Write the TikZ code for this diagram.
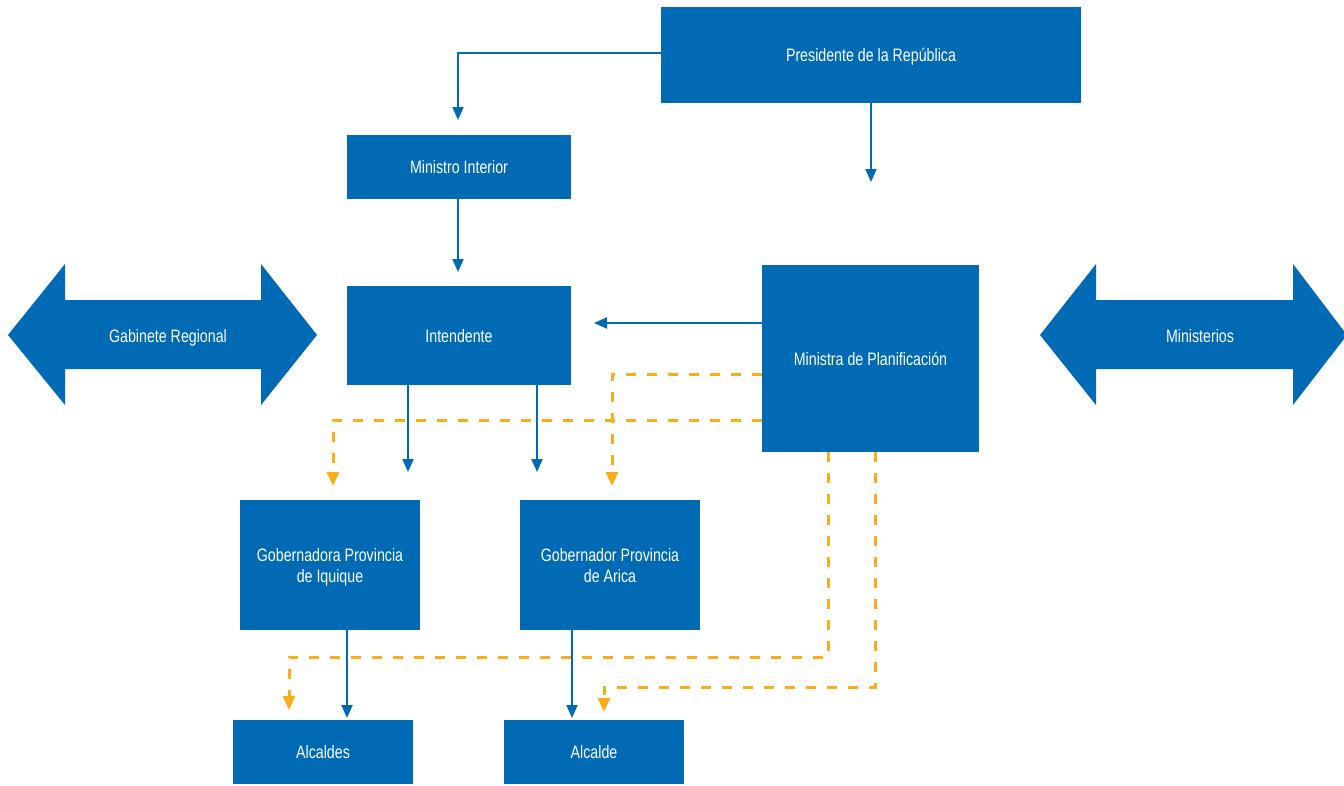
\documentclass[tikz,border=0pt]{standalone}
\usepackage{fontspec}
\setmainfont{Liberation Sans}[FakeStretch=0.79]
\usetikzlibrary{arrows.meta}
\definecolor{cblue}{RGB}{0,106,180}
\definecolor{corange}{RGB}{251,173,24}
\begin{document}
\begin{tikzpicture}[x=1pt,y=-1pt,
  box/.style={fill=cblue,text=white,inner sep=0pt,align=center,text depth=0pt,font=\fontsize{18}{21}\selectfont},
  barrow/.style={draw=cblue,line width=2pt,-{Triangle[length=13pt,width=11pt]}},
  oarrow/.style={draw=corange,line width=3pt,dash pattern=on 10pt off 11pt,-{Triangle[length=14pt,width=12pt]}},
  bigarrow/.style={fill=cblue}]
\useasboundingbox (0,0) rectangle (1344,785);
\fill[white] (0,0) rectangle (1344,785);
% boxes
\node[box,minimum width=420pt,minimum height=96pt] (pres) at (871,55) {Presidente de la República};
\node[box,minimum width=224pt,minimum height=64pt] (mint) at (459,167) {Ministro Interior};
\node[box,minimum width=224pt,minimum height=99pt] (inte) at (459,335.5) {Intendente};
\node[box,minimum width=217pt,minimum height=187pt] (plan) at (870.5,358.5) {Ministra de Planificación};
\node[box,minimum width=180pt,minimum height=130pt] (gobi) at (330,565) {Gobernadora Provincia\\de Iquique};
\node[box,minimum width=180pt,minimum height=130pt] (goba) at (610,565) {Gobernador Provincia\\de Arica};
\node[box,minimum width=180pt,minimum height=64pt] (alcs) at (323,752) {Alcaldes};
\node[box,minimum width=180pt,minimum height=64pt] (alc) at (594,752) {Alcalde};
% double arrows
\fill[bigarrow] (8,335)--(65,264)--(65,300)--(261,300)--(261,264)--(317,335)--(261,405)--(261,369)--(65,369)--(65,405)--cycle;
\node[box,fill=none] (gab) at (168,336) {Gabinete Regional};
\fill[bigarrow] (1040,335)--(1096,264)--(1096,300)--(1293,300)--(1293,264)--(1347,335)--(1293,405)--(1293,369)--(1096,369)--(1096,405)--cycle;
\node[box,fill=none] (mins) at (1200,336) {Ministerios};
% blue connectors
\coordinate (a1) at (458,120);
\coordinate (y53) at (0,53);
\draw[barrow] (pres.west |- y53) -| (a1);
\coordinate (a2) at (871,182);
\draw[barrow] (pres.south) -- (a2);
\coordinate (a3) at (458,272);
\draw[barrow] (mint.south -| a3) -- (a3);
\coordinate (a4) at (594,323);
\draw[barrow] (plan.west |- a4) -- (a4);
\coordinate (a5) at (408,472);
\draw[barrow] (inte.south -| a5) -- (a5);
\coordinate (a6) at (537,472);
\draw[barrow] (inte.south -| a6) -- (a6);
\coordinate (a7) at (347,718);
\draw[barrow] (gobi.south -| a7) -- (a7);
\coordinate (a8) at (572,718);
\draw[barrow] (goba.south -| a8) -- (a8);
% orange dashed connectors
\coordinate (y374) at (0,374);
\coordinate (y420) at (0,420);
\coordinate (o1) at (612,486);
\coordinate (o2) at (333,486);
\draw[oarrow] (plan.west |- y374) -| (o1);
\draw[oarrow] (plan.west |- y420) -| (o2);
\coordinate (c1) at (828,657);
\coordinate (c2) at (875,687);
\coordinate (o3) at (289,710);
\coordinate (o4) at (604,712);
\draw[oarrow] (plan.south -| c1) -- (c1) -| (o3);
\draw[oarrow] (plan.south -| c2) -- (c2) -| (o4);
\end{tikzpicture}
\end{document}
